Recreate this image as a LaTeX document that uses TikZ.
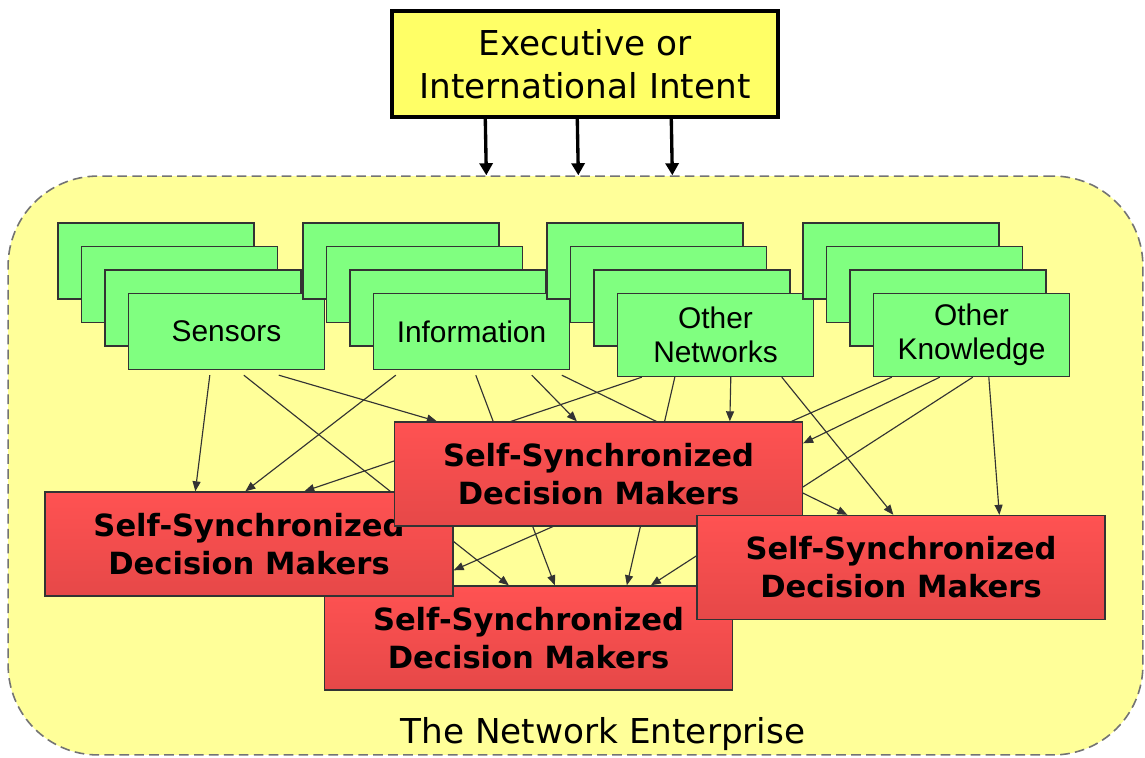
\documentclass[tikz,border=0pt]{standalone}
\usepackage{fontspec}
\setmainfont{DejaVu Sans}
\newfontfamily\cardfont{Liberation Sans}
\usepackage{tikz}
\usetikzlibrary{positioning}
\usetikzlibrary{arrows.meta}
\definecolor{entyellow}{HTML}{FFFF99}
\definecolor{intentyellow}{HTML}{FFFF66}
\definecolor{cardgreen}{HTML}{80FF80}
\definecolor{dmred}{HTML}{FF5252}
\definecolor{dmdark}{HTML}{E64848}
\definecolor{edge}{HTML}{333333}
\pgfdeclarelayer{back}
\pgfdeclarelayer{mid}
\pgfsetlayers{back,mid,main}
\tikzset{
  card/.style={draw=edge, fill=cardgreen, line width=0.8pt, minimum width=3.92cm, minimum height=1.52cm,
    inner sep=0pt, align=center, on grid, font=\cardfont\fontsize{17}{19.5}\selectfont},
  tallcard/.style={card, minimum height=1.66cm},
  dm/.style={draw=edge, line width=0.8pt, top color=dmred, bottom color=dmdark, minimum width=8.16cm,
    minimum height=2.08cm, inner sep=0pt, align=center, font=\bfseries\fontsize{17.4}{21.6}\selectfont},
  link/.style={draw=edge, line width=0.65pt, -{Triangle[length=0.2cm,width=0.16cm]}},
  intent/.style={line width=1.9pt, -{Triangle[length=0.24cm,width=0.26cm]}}
}

\begin{document}
\begin{tikzpicture}[x=0.02cm, y=-0.02cm]
      \useasboundingbox (0,0) rectangle (1145,757);
      % \draw[red] (0,0) rectangle (1145,757);
      \begin{pgfonlayer}{back}
      \node(ent) [draw=black!55, fill=entyellow, line width=0.9pt, dash pattern=on 5.5pt off 3pt,
        rounded corners=1.8cm, minimum width=22.7cm, minimum height=11.58cm] at (575.5,465.5) {};
      \end{pgfonlayer}
      \node(entlabel) [anchor=base, font=\fontsize{19.5}{24}\selectfont] at (603,743) {The Network Enterprise};

      \node(exec) [draw, line width=2pt, fill=intentyellow, minimum width=7.72cm, minimum height=2.12cm,
        align=center, font=\fontsize{19.5}{24.5}\selectfont] at (585,64) {Executive or\\International Intent};
      \draw[intent]([shift={(95,0)}]exec.south west) -- ([shift={(479,0)}]ent.north west);
      \draw[intent]([shift={(187,0)}]exec.south west) -- ([shift={(571,0)}]ent.north west);
      \draw[intent]([shift={(281,0)}]exec.south west) -- ([shift={(665,0)}]ent.north west);

      % stacks of sources
      \node(sen1) [card] at (156,261) {};
      \node(sen2) [card, below right=0.47cm and 0.47cm of sen1] {};
      \node(sen3) [card, below right=0.47cm and 0.47cm of sen2] {};
      \node(sen) [card, below right=0.47cm and 0.47cm of sen3] {Sensors};
      \node(inf1) [card] at (401,261) {};
      \node(inf2) [card, below right=0.47cm and 0.47cm of inf1] {};
      \node(inf3) [card, below right=0.47cm and 0.47cm of inf2] {};
      \node(inf) [card, below right=0.47cm and 0.47cm of inf3] {Information};
      \node(net1) [card] at (645,261) {};
      \node(net2) [card, below right=0.47cm and 0.47cm of net1] {};
      \node(net3) [card, below right=0.47cm and 0.47cm of net2] {};
      \node(net) [tallcard, below right=0.54cm and 0.47cm of net3] {Other\\Networks};
      \node(kno1) [card] at (901,261) {};
      \node(kno2) [card, below right=0.47cm and 0.47cm of kno1] {};
      \node(kno3) [card, below right=0.47cm and 0.47cm of kno2] {};
      \node(kno) [tallcard, below right=0.54cm and 0.47cm of kno3] {Other\\Knowledge};

      % decision makers
      \node(dmb) [dm] at (528.5,638) {Self-Synchronized\\Decision Makers};
      \node(dml) [dm] at (249,544) {Self-Synchronized\\Decision Makers};
      \node(dmc) [dm] at (598.5,474) {Self-Synchronized\\Decision Makers};
      \node(dmr) [dm] at (901,567.5) {Self-Synchronized\\Decision Makers};

      \begin{pgfonlayer}{mid}
      \draw[link]([shift={(82,5)}]sen.south west) -- ([shift={(151,0)}]dml.north west);
      \draw[link]([shift={(116,5)}]sen.south west) -- ([shift={(185,0)}]dmb.north west);
      \draw[link]([shift={(151,5)}]sen.south west) -- ([shift={(43,0)}]dmc.north west);
      \draw[link]([shift={(23,5)}]inf.south west) -- ([shift={(201,0)}]dml.north west);
      \draw[link]([shift={(103,5)}]inf.south west) -- ([shift={(231,0)}]dmb.north west);
      \draw[link]([shift={(159,5)}]inf.south west) -- ([shift={(183,0)}]dmc.north west);
      \draw[link]([shift={(189,5)}]inf.south west) -- ([shift={(151,0)}]dmr.north west);
      \draw[link]([shift={(58,0)}]net.south west) -- ([shift={(303,0)}]dmb.north west);
      \draw[link]([shift={(114,0)}]net.south west) -- ([shift={(336,0)}]dmc.north west);
      \draw[link]([shift={(25,0)}]net.south west) -- ([shift={(260,0)}]dml.north west);
      \draw[link]([shift={(165,0)}]net.south west) -- ([shift={(197,0)}]dmr.north west);
      \draw[link]([shift={(19,0)}]kno.south west) -- ([shift={(0,79)}]dml.north east);
      \draw[link]([shift={(67,0)}]kno.south west) -- ([shift={(0,22)}]dmc.north east);
      \draw[link]([shift={(100,0)}]kno.south west) -- ([shift={(327,0)}]dmb.north west);
      \draw[link]([shift={(116,0)}]kno.south west) -- ([shift={(303,0)}]dmr.north west);
      \end{pgfonlayer}
\end{tikzpicture}
\end{document}
